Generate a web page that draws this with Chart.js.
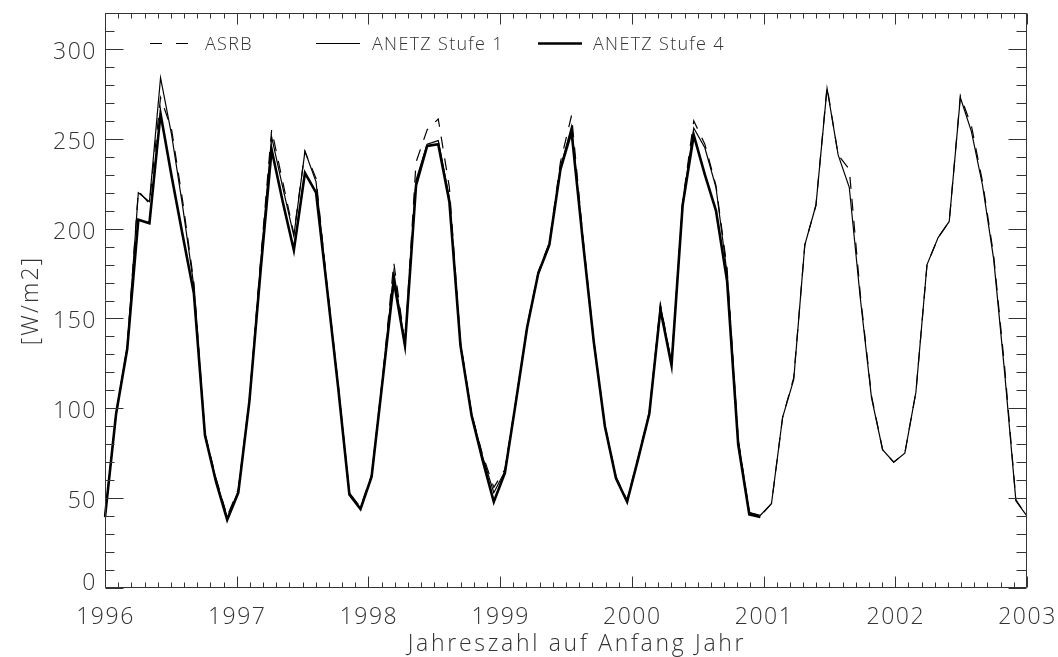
<!DOCTYPE html>
<html>
<head>
<meta charset="utf-8">
<script src="https://cdn.jsdelivr.net/npm/chart.js@4.4.1/dist/chart.umd.min.js"></script>
<style>
  html, body { margin: 0; padding: 0; background: #ffffff; }
  #wrap { width: 1058px; height: 657px; }
</style>
</head>
<body>
<div id="wrap"><canvas id="c" width="1058" height="657"></canvas></div>
<script>
// Monthly mean global radiation, Jan 1996 .. Dec 2002
const firstYear = 1996;
const lastYear = 2003;
const yearLabels = ['1996', '1997', '1998', '1999', '2000', '2001', '2002', '2003'];
const yTickValues = [0, 50, 100, 150, 200, 250, 300];
const yMax = 320;

const months = [];
for (let yr = 1996; yr <= 2002; yr++) {
  for (let m = 1; m <= 12; m++) months.push(yr + '-' + String(m).padStart(2, '0'));
}

// ASRB station values [W/m2]
const asrb = [
  40, 97, 134, 221, 214, 273, 255, 215, 170, 86, 61, 40,
  55, 105, 182, 255, 226, 197, 243, 228, 168, 113, 53, 45,
  63, 118, 181, 136, 237, 255, 261, 223, 137, 97, 74, 56,
  66, 105, 146, 176, 192, 237, 263, 197, 138, 91, 62, 49,
  73, 98, 158, 125, 215, 260, 247, 224, 178, 83, 42, 40,
  47, 95, 117, 191, 213, 279, 241, 233, 163, 107, 77, 70,
  75, 109, 180, 195, 204, 274, 257, 226, 185, 122, 49, 40
];

// ANETZ, level 1 [W/m2]
const anetzStufe1 = [
  39.5, 97, 134, 220, 215, 284, 252, 212, 168, 85, 60, 39,
  54, 104, 180, 251, 223, 196, 243, 226, 167, 112, 53, 44,
  62, 117, 176, 135, 227, 247, 249, 217, 136, 97, 73, 53,
  65, 104, 145, 175, 191, 234, 257, 195, 137, 90, 61, 48,
  72, 97, 157, 125, 214, 256, 245, 223, 175, 82, 42, 40.5,
  47, 95, 116, 191, 213, 278, 241, 223, 161, 106, 77, 70,
  75, 109, 180, 195, 204, 273, 254, 224, 183, 119, 48.5, 40
];

// ANETZ, level 4 [W/m2] (1996 - 2000)
const anetzStufe4 = [
  39.5, 97, 133, 205, 203, 264, 229, 196, 164, 85, 59, 38,
  53, 104, 176, 244, 215, 188, 231, 220, 166, 111, 52, 44,
  62, 116, 171, 135, 224, 246, 247, 215, 135, 96, 71, 48,
  64, 104, 145, 175, 191, 233, 254, 194, 137, 90, 61, 48,
  72, 97, 155, 124, 213, 252, 230, 210, 171, 80, 41, 39.5
];

const FONT = '"Open Sans", "DejaVu Sans", sans-serif';
const INK = '#333333';

// Frame with inward ticks on all four sides, tick labels, titles and legend
const frame = {
  id: 'frame',
  afterDatasetsDraw(chart) {
    const { ctx, chartArea: a, scales } = chart;
    const xs = scales.x, ys = scales.y;
    const L = a.left + 0.5, R = a.right - 0.5, T = a.top + 0.5, B = a.bottom - 0.5;
    ctx.save();
    ctx.strokeStyle = INK;
    ctx.lineWidth = 1;
    ctx.setLineDash([]);
    ctx.beginPath();
    ctx.rect(L, T, R - L, B - T);

    // vertical axes: minor every 10, major every 50
    for (let v = 0; v <= yMax; v += 10) {
      const py = Math.round(ys.getPixelForValue(v)) + 0.5;
      const major = v % 50 === 0;
      ctx.moveTo(L, py); ctx.lineTo(L + (major ? 18 : 9), py);
      ctx.moveTo(R, py); ctx.lineTo(R - (major ? 18 : 10), py);
    }
    // horizontal axes: major each year, minor each tenth of a year
    const span = lastYear - firstYear;
    for (let k = 0; k <= span * 10; k++) {
      const px = Math.round(xs.getPixelForDecimal(k / (span * 10))) + 0.5;
      const major = k % 10 === 0;
      const len = major ? 11 : 5;
      ctx.moveTo(px, B); ctx.lineTo(px, B - len);
      ctx.moveTo(px, T); ctx.lineTo(px, T + len);
    }
    ctx.stroke();

    ctx.fillStyle = INK;
    ctx.font = '300 23px ' + FONT;
    ctx.letterSpacing = '1.5px';
    // y tick labels
    ctx.textAlign = 'right';
    ctx.textBaseline = 'alphabetic';
    yTickValues.forEach(v => {
      const py = ys.getPixelForValue(v);
      const base = Math.min(py + 10, a.bottom + 2);
      ctx.fillText(String(v), a.left - 8, base);
    });
    // x tick labels
    ctx.textAlign = 'center';
    yearLabels.forEach((lab, k) => {
      const px = xs.getPixelForDecimal(k / span);
      ctx.fillText(lab, px + 0.5, a.bottom + 36);
    });

    // axis titles
    ctx.font = '300 23px ' + FONT;
    ctx.letterSpacing = '2.7px';
    ctx.fillText('Jahreszahl auf Anfang Jahr', 577, a.bottom + 63);
    ctx.save();
    ctx.translate(38, (a.top + a.bottom) / 2);
    ctx.rotate(-Math.PI / 2);
    ctx.textBaseline = 'alphabetic';
    ctx.letterSpacing = '2.2px';
    ctx.fillText('[W/m2]', 0, 0);
    ctx.restore();

    // legend inside the plot, along the top
    const ly = a.top + 30.5;
    ctx.strokeStyle = '#000';
    ctx.lineWidth = 1.2;
    ctx.setLineDash([12, 14]);
    ctx.beginPath(); ctx.moveTo(a.left + 45, ly); ctx.lineTo(a.left + 85, ly); ctx.stroke();
    ctx.setLineDash([]);
    ctx.beginPath(); ctx.moveTo(a.left + 211, ly); ctx.lineTo(a.left + 255, ly); ctx.stroke();
    ctx.lineWidth = 2.5;
    ctx.beginPath(); ctx.moveTo(a.left + 433, ly); ctx.lineTo(a.left + 477, ly); ctx.stroke();

    ctx.font = '300 18px ' + FONT;
    ctx.letterSpacing = '1.3px';
    ctx.textAlign = 'left';
    ctx.fillStyle = INK;
    ctx.fillText('ASRB', a.left + 100, ly + 6.5);
    ctx.fillText('ANETZ Stufe 1', a.left + 267, ly + 6.5);
    ctx.fillText('ANETZ Stufe 4', a.left + 488, ly + 6.5);
    ctx.restore();
  }
};

new Chart(document.getElementById('c'), {
  type: 'line',
  data: {
    labels: months,
    datasets: [
      { label: 'ASRB', data: asrb, borderColor: '#000', borderWidth: 1.2,
        borderDash: [12, 10], pointRadius: 0, fill: false, tension: 0 },
      { label: 'ANETZ Stufe 1', data: anetzStufe1, borderColor: '#000', borderWidth: 1.2,
        pointRadius: 0, fill: false, tension: 0 },
      { label: 'ANETZ Stufe 4', data: anetzStufe4, borderColor: '#000', borderWidth: 2.6,
        pointRadius: 0, fill: false, tension: 0 }
    ]
  },
  options: {
    responsive: false,
    animation: false,
    devicePixelRatio: 1,
    layout: { padding: { left: 105, right: 31, top: 13, bottom: 69 } },
    scales: {
      x: { type: 'category', offset: false, display: false },
      y: { type: 'linear', min: 0, max: yMax, display: false }
    },
    plugins: { legend: { display: false }, tooltip: { enabled: false } },
    elements: { line: { borderJoinStyle: 'miter' } }
  },
  plugins: [frame]
});
</script>
</body>
</html>
